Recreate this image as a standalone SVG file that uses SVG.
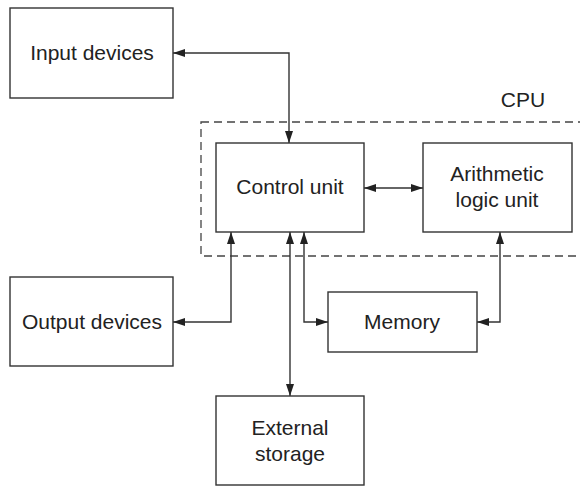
<svg xmlns="http://www.w3.org/2000/svg" width="580" height="486" viewBox="0 0 580 486">
<style>
.box{fill:#fff;stroke:#333;stroke-width:1.4}
.lbl{font-family:"Liberation Sans",Arial,sans-serif;font-size:21px;fill:#222;text-anchor:middle}
.con{fill:none;stroke:#333;stroke-width:1.4;marker-start:url(#ah);marker-end:url(#ah)}
.cpu{fill:none;stroke:#444;stroke-width:1.3;stroke-dasharray:8 5}
</style>
<defs>
<marker id="ah" viewBox="0 0 12 8" refX="12" refY="4" markerWidth="12" markerHeight="8" markerUnits="userSpaceOnUse" orient="auto-start-reverse">
<path d="M0,0 L12,4 L0,8 z" fill="#222"/>
</marker>
</defs>
<rect class="bg" x="0" y="0" width="580" height="486" fill="#fff"/>
<g id="cpu">
<rect class="cpu" x="201" y="122" width="400" height="134"/>
<text class="lbl" x="523" y="107">CPU</text>
</g>
<g id="connectors">
<path class="con" d="M173,53 H289 V143"/>
<path class="con" d="M364,188 H423"/>
<path class="con" d="M173,322 H231 V232"/>
<path class="con" d="M290,232 V396"/>
<path class="con" d="M304,232 V322 H328"/>
<path class="con" d="M500,232 V322 H477"/>
</g>
<g id="input">
<rect class="box" x="10" y="8" width="163" height="90"/>
<text class="lbl" x="92" y="60">Input devices</text>
</g>
<g id="control">
<rect class="box" x="216" y="143" width="148" height="89"/>
<text class="lbl" x="290" y="194">Control unit</text>
</g>
<g id="alu">
<rect class="box" x="423" y="143" width="149" height="89"/>
<text class="lbl" x="497" y="181">Arithmetic</text>
<text class="lbl" x="497" y="207">logic unit</text>
</g>
<g id="output">
<rect class="box" x="10" y="277" width="163" height="89"/>
<text class="lbl" x="92" y="329">Output devices</text>
</g>
<g id="memory">
<rect class="box" x="328" y="292" width="149" height="60"/>
<text class="lbl" x="402" y="329">Memory</text>
</g>
<g id="external">
<rect class="box" x="216" y="396" width="148" height="89"/>
<text class="lbl" x="290" y="435">External</text>
<text class="lbl" x="290" y="461">storage</text>
</g>
</svg>
